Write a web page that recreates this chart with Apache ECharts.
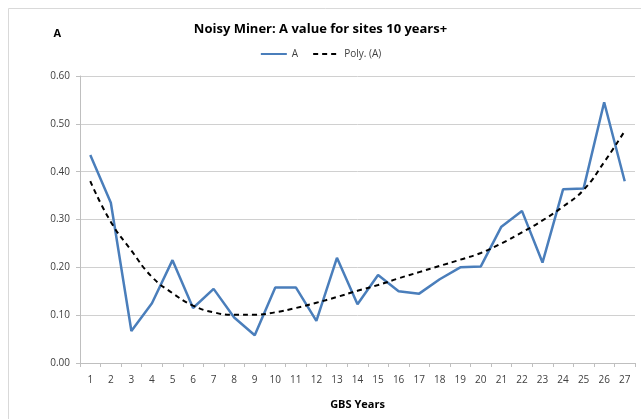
<!DOCTYPE html>
<html>
<head>
<meta charset="utf-8">
<script src="https://cdn.jsdelivr.net/npm/echarts@6/dist/echarts.min.js"></script>
<style>
  html, body { margin: 0; padding: 0; background: #fff; }
  #main { width: 641px; height: 419px; }
</style>
</head>
<body>
<div id="main"></div>
<script>
// GBS years 1..27
var years = ['1','2','3','4','5','6','7','8','9','10','11','12','13','14','15','16','17','18','19','20','21','22','23','24','25','26','27'];
// A value
var aValues = [0.435, 0.335, 0.067, 0.125, 0.215, 0.115, 0.155, 0.095, 0.058, 0.158, 0.158, 0.088, 0.220, 0.123, 0.184, 0.150, 0.145, 0.175, 0.200, 0.202, 0.285, 0.318, 0.210, 0.363, 0.365, 0.545, 0.380];
// Poly. (A) trend line
var polyValues = [0.380, 0.295, 0.235, 0.180, 0.146, 0.120, 0.106, 0.101, 0.101, 0.106, 0.115, 0.126, 0.138, 0.151, 0.163, 0.177, 0.190, 0.203, 0.216, 0.230, 0.250, 0.273, 0.298, 0.327, 0.362, 0.420, 0.485];
var yTicks = [0, 0.1, 0.2, 0.3, 0.4, 0.5, 0.6];

var chartDom = document.getElementById('main');
var myChart = echarts.init(chartDom);
var font = 'Open Sans';
var option = {
    animation: false,
    backgroundColor: '#fff',
    graphic: [{
        type: 'rect',
        shape: { x: 8.5, y: 8.5, width: 640, height: 420 },
        style: { fill: 'none', stroke: '#d9d9d9', lineWidth: 1 },
        silent: true
    }],
    title: {
        text: 'Noisy Miner: A value for sites 10 years+',
        left: 'center',
        top: 18,
        textStyle: { fontFamily: font, fontSize: 13, fontWeight: 'bold', color: '#000' }
    },
    legend: {
        top: 44,
        left: 'center',
        itemWidth: 26,
        itemHeight: 10,
        itemGap: 14,
        itemStyle: { opacity: 0 },
        textStyle: { fontFamily: font, fontSize: 10, color: '#404040' },
        data: ['A', 'Poly. (A)']
    },
    grid: { left: 80, right: 6, top: 76, bottom: 56 },
    xAxis: {
        type: 'category',
        data: years,
        boundaryGap: true,
        name: 'GBS Years',
        nameLocation: 'middle',
        nameGap: 36,
        nameTextStyle: { fontFamily: font, fontSize: 11, fontWeight: 'bold', color: '#000' },
        axisLine: { lineStyle: { color: '#bfbfbf' } },
        axisTick: { show: true, length: 4, lineStyle: { color: '#bfbfbf' } },
        axisLabel: { fontFamily: font, fontSize: 10, color: '#404040', margin: 12, interval: 0 }
    },
    yAxis: {
        type: 'value',
        min: yTicks[0],
        max: yTicks[yTicks.length - 1],
        interval: 0.1,
        name: 'A',
        nameLocation: 'end',
        nameGap: 37,
        nameTextStyle: { fontFamily: font, fontSize: 11, fontWeight: 'bold', color: '#000', align: 'right', padding: [0, 19, 0, 0] },
        axisLine: { show: true, lineStyle: { color: '#bfbfbf' } },
        axisTick: { show: true, length: 4, lineStyle: { color: '#bfbfbf' } },
        splitLine: { lineStyle: { color: '#d0d0d0' } },
        axisLabel: {
            fontFamily: font, fontSize: 10, color: '#404040', margin: 10,
            formatter: function (v) { return v.toFixed(2); }
        }
    },
    series: [
        {
            name: 'A',
            type: 'line',
            data: aValues,
            symbol: 'none',
            lineStyle: { color: '#4a7ebb', width: 2.5 },
            itemStyle: { color: '#4a7ebb' }
        },
        {
            name: 'Poly. (A)',
            type: 'line',
            data: polyValues,
            symbol: 'none',
            smooth: true,
            lineStyle: { color: '#000', width: 2, type: [5, 4] },
            itemStyle: { color: '#000' }
        }
    ]
};
myChart.setOption(option);
</script>
</body>
</html>
